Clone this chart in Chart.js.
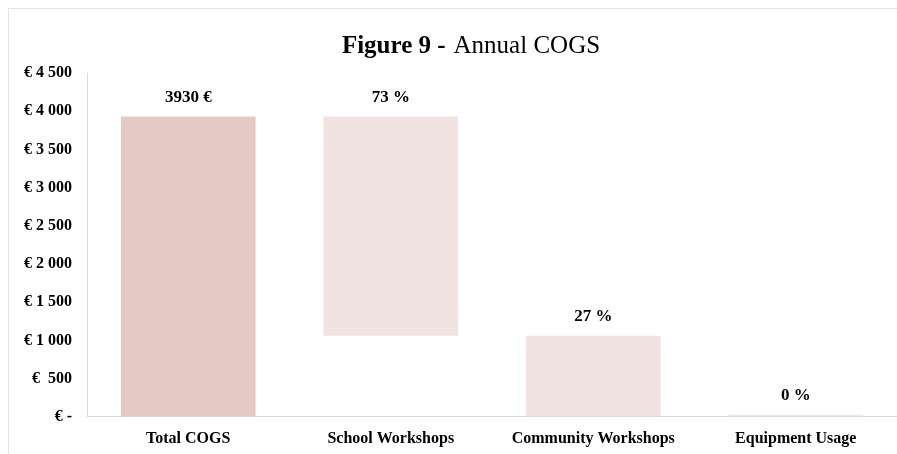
<!DOCTYPE html>
<html>
<head>
<meta charset="utf-8">
<script src="https://cdn.jsdelivr.net/npm/chart.js@4/dist/chart.umd.min.js"></script>
<style>
  html, body { margin: 0; padding: 0; background: #fff; }
  #wrap { position: relative; width: 897px; height: 454px; overflow: hidden; }
  #frame { position: absolute; left: 8px; top: 8px; width: 900px; height: 460px;
           border-left: 1px solid #e4e4e4; border-top: 1px solid #e4e4e4; }
  #title { position: absolute; left: 0; width: 942px; top: 30px; line-height: 30px;
           text-align: center; font-family: "Liberation Serif", serif; font-size: 25px; color: #000; }
  #title b { margin-right: 8px; }
  canvas { position: absolute; left: 0; top: 0; }
</style>
</head>
<body>
<div id="wrap">
  <div id="frame"></div>
  <canvas id="chart" width="897" height="468"></canvas>
  <div id="title"><b>Figure 9 -</b>Annual COGS</div>
</div>
<script>
const categories = ["Total COGS", "School Workshops", "Community Workshops", "Equipment Usage"];
const totalCogs = 3930;           // €
const shares = [73, 27, 0];       // % of total, per activity
const yTicks = [0, 500, 1000, 1500, 2000, 2500, 3000, 3500, 4000, 4500];

// waterfall: total bar, then each share stacked down from the top
const segments = [[0, totalCogs]];
let level = totalCogs;
shares.forEach((s) => {
  const bottom = level - totalCogs * s / 100;
  segments.push([bottom, level]);
  level = bottom;
});
const labels = [totalCogs + " €"].concat(shares.map((s) => s + " %"));

const serif = "'Liberation Serif', 'Times New Roman', serif";

const valueLabels = {
  id: "valueLabels",
  afterDatasetsDraw(chart) {
    const ctx = chart.ctx;
    const meta = chart.getDatasetMeta(0);
    ctx.save();
    ctx.font = "bold 17px " + serif;
    ctx.fillStyle = "#000";
    ctx.textAlign = "center";
    ctx.textBaseline = "middle";
    meta.data.forEach((bar, i) => {
      ctx.fillText(labels[i], bar.x, bar.y - 19);
    });
    ctx.restore();
  },
};

new Chart(document.getElementById("chart"), {
  type: "bar",
  data: {
    labels: categories,
    datasets: [
      {
        data: segments,
        backgroundColor: ["#e5c9c4", "#f2e3e3", "#f2e3e3", "#f2e3e3"],
        borderWidth: 0,
        categoryPercentage: 1,
        barPercentage: 0.665,
        minBarLength: 2,
      },
    ],
  },
  options: {
    responsive: false,
    animation: false,
    layout: { padding: { top: 73, right: 0, bottom: 8, left: 0 } },
    plugins: {
      legend: { display: false },
      tooltip: { enabled: false },
    },
    scales: {
      x: {
        grid: { display: false, drawTicks: false },
        border: { display: true, color: "#d9d9d9", width: 1 },
        ticks: {
          padding: 12,
          color: "#000",
          font: { family: serif, size: 16, weight: "bold" },
        },
      },
      y: {
        min: 0,
        max: 4500,
        afterFit: (scale) => { scale.width = 87; },
        afterBuildTicks: (scale) => { scale.ticks = yTicks.map((v) => ({ value: v })); },
        grid: { display: true, color: "rgba(0,0,0,0)", drawTicks: false },
        border: { display: true, color: "#d9d9d9", width: 1 },
        ticks: {
          padding: 15,
          color: "#000",
          font: { family: serif, size: 16, weight: "bold" },
          callback: (v) => {
            if (v === 0) return "€ -";
            if (v < 1000) return "€  " + v;
            return "€ " + Math.floor(v / 1000) + " " + String(v % 1000).padStart(3, "0");
          },
        },
      },
    },
  },
  plugins: [valueLabels],
});
</script>
</body>
</html>
